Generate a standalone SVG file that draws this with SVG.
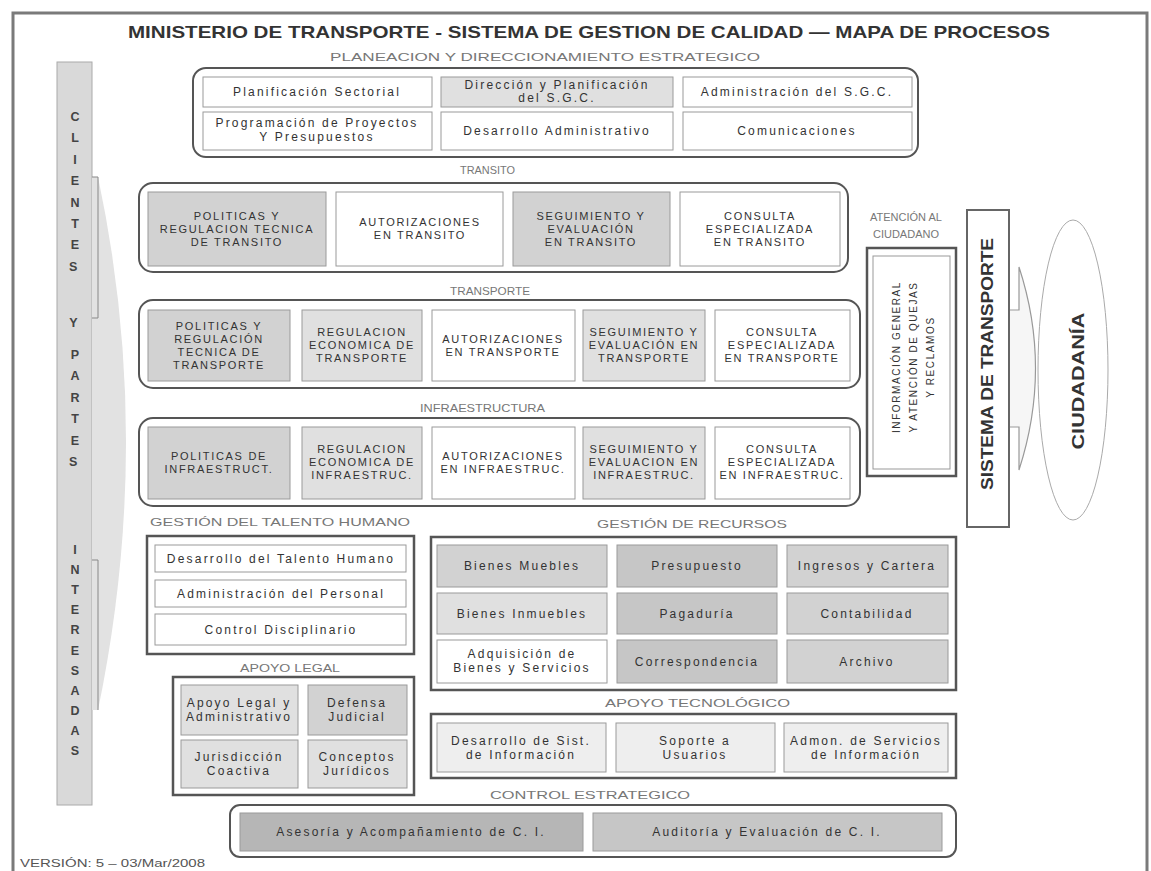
<svg xmlns="http://www.w3.org/2000/svg" width="1151" height="871" viewBox="0 0 1151 871">
<style>
text{font-family:"Liberation Sans",Arial,sans-serif}
.box{fill:none;stroke:#555;stroke-width:2}
.sq{fill:#fff;stroke:#555;stroke-width:2.5}
.cell{stroke:#9a9a9a;stroke-width:1}
.w{fill:#fff}.g0{fill:#eeeeee}.g1{fill:#e0e0e0}.g2{fill:#d2d2d2}.g3{fill:#c6c6c6}.g4{fill:#b6b6b6}
.t{font-size:12px;fill:#333;letter-spacing:2.2px;text-anchor:middle}
.u{font-size:11px;fill:#333;letter-spacing:1.7px;text-anchor:middle}
.v{font-size:10px;fill:#333;letter-spacing:1.6px;text-anchor:middle}
.lbl{font-size:11px;fill:#777}
.col{font-size:12.5px;font-weight:bold;fill:#444;text-anchor:middle}
.big{font-weight:bold;fill:#333;text-anchor:middle}
</style>
<rect width="1151" height="871" fill="#fff"/>
<rect x="13" y="13" width="1134" height="880" fill="none" stroke="#7a7a7a" stroke-width="3"/>
<text x="128" y="38" font-size="17" font-weight="bold" fill="#333" textLength="922" lengthAdjust="spacingAndGlyphs">MINISTERIO DE TRANSPORTE - SISTEMA DE GESTION DE CALIDAD — MAPA DE PROCESOS</text>

<g id="clientes">
<rect x="57" y="62" width="35" height="743" fill="#d9d9d9" stroke="#aaa" stroke-width="1"/>
<text class="col">
<tspan x="75" y="121">C</tspan><tspan x="75" y="142">L</tspan><tspan x="75" y="164">I</tspan><tspan x="75" y="185">E</tspan><tspan x="75" y="207">N</tspan><tspan x="75" y="228">T</tspan><tspan x="75" y="249">E</tspan><tspan x="75" y="271">S</tspan>
<tspan x="75" y="327">Y</tspan>
<tspan x="75" y="359">P</tspan><tspan x="75" y="380">A</tspan><tspan x="75" y="402">R</tspan><tspan x="75" y="423">T</tspan><tspan x="75" y="445">E</tspan><tspan x="75" y="466">S</tspan>
<tspan x="75" y="554">I</tspan><tspan x="75" y="574">N</tspan><tspan x="75" y="594">T</tspan><tspan x="75" y="614">E</tspan><tspan x="75" y="634">R</tspan><tspan x="75" y="655">E</tspan><tspan x="75" y="675">S</tspan><tspan x="75" y="695">A</tspan><tspan x="75" y="715">D</tspan><tspan x="75" y="735">A</tspan><tspan x="75" y="755">S</tspan>
</text>
</g>

<g id="connectors">
<path d="M92,177 L98,177 Q154,440 98,710 L92,710 Z" fill="#e2e2e2" stroke="none"/>
<path d="M92,177 H98 V318 H92 M92,560 H98 V710" fill="none" stroke="#888" stroke-width="1"/>
<path d="M1009,310 H1019 V267 Q1052,368 1019,470 V427 H1009" fill="#f6f6f6" stroke="#999" stroke-width="1.2"/>
</g>

<g id="planeacion">
<text class="lbl" x="330" y="61" textLength="430" lengthAdjust="spacingAndGlyphs">PLANEACION Y DIRECCIONAMIENTO ESTRATEGICO</text>
<rect class="box" x="193" y="68" width="725" height="89" rx="13"/>
<rect class="cell w" x="203" y="77" width="229" height="30"/>
<rect class="cell g1" x="441" y="77" width="232" height="30"/>
<rect class="cell w" x="683" y="77" width="229" height="30"/>
<rect class="cell w" x="203" y="112" width="229" height="38"/>
<rect class="cell w" x="441" y="112" width="232" height="38"/>
<rect class="cell w" x="683" y="112" width="229" height="38"/>
<text class="t" x="317" y="96">Planificación Sectorial</text>
<text class="t"><tspan x="557" y="89">Dirección y Planificación</tspan><tspan x="557" y="102">del S.G.C.</tspan></text>
<text class="t" x="797" y="96">Administración del S.G.C.</text>
<text class="t"><tspan x="317" y="127">Programación de Proyectos</tspan><tspan x="317" y="141">Y Presupuestos</tspan></text>
<text class="t" x="557" y="135">Desarrollo Administrativo</text>
<text class="t" x="797" y="135">Comunicaciones</text>
</g>

<g id="transito">
<text class="lbl" x="460" y="174" textLength="55" lengthAdjust="spacingAndGlyphs">TRANSITO</text>
<rect class="box" x="139" y="183" width="709" height="89" rx="14"/>
<rect class="cell g2" x="148" y="192" width="178" height="74"/>
<rect class="cell w" x="336" y="192" width="167" height="74"/>
<rect class="cell g2" x="513" y="192" width="157" height="74"/>
<rect class="cell w" x="680" y="192" width="160" height="74"/>
<text class="u"><tspan x="237" y="220">POLITICAS Y</tspan><tspan x="237" y="233">REGULACION TECNICA</tspan><tspan x="237" y="246">DE TRANSITO</tspan></text>
<text class="u"><tspan x="420" y="226">AUTORIZACIONES</tspan><tspan x="420" y="239">EN TRANSITO</tspan></text>
<text class="u"><tspan x="591" y="220">SEGUIMIENTO Y</tspan><tspan x="591" y="233">EVALUACIÓN</tspan><tspan x="591" y="246">EN TRANSITO</tspan></text>
<text class="u"><tspan x="760" y="220">CONSULTA</tspan><tspan x="760" y="233">ESPECIALIZADA</tspan><tspan x="760" y="246">EN TRANSITO</tspan></text>
</g>

<g id="transporte">
<text class="lbl" x="450" y="295" textLength="80" lengthAdjust="spacingAndGlyphs">TRANSPORTE</text>
<rect class="box" x="139" y="300" width="721" height="88" rx="14"/>
<rect class="cell g2" x="148" y="310" width="142" height="71"/>
<rect class="cell g1" x="302" y="310" width="120" height="71"/>
<rect class="cell w" x="432" y="310" width="143" height="71"/>
<rect class="cell g1" x="583" y="310" width="122" height="71"/>
<rect class="cell w" x="715" y="310" width="135" height="71"/>
<text class="u"><tspan x="219" y="330">POLITICAS Y</tspan><tspan x="219" y="343">REGULACIÓN</tspan><tspan x="219" y="356">TECNICA DE</tspan><tspan x="219" y="369">TRANSPORTE</tspan></text>
<text class="u"><tspan x="362" y="336">REGULACION</tspan><tspan x="362" y="349">ECONOMICA DE</tspan><tspan x="362" y="362">TRANSPORTE</tspan></text>
<text class="u"><tspan x="503" y="343">AUTORIZACIONES</tspan><tspan x="503" y="356">EN TRANSPORTE</tspan></text>
<text class="u"><tspan x="644" y="336">SEGUIMIENTO Y</tspan><tspan x="644" y="349">EVALUACIÓN EN</tspan><tspan x="644" y="362">TRANSPORTE</tspan></text>
<text class="u"><tspan x="782" y="336">CONSULTA</tspan><tspan x="782" y="349">ESPECIALIZADA</tspan><tspan x="782" y="362">EN TRANSPORTE</tspan></text>
</g>

<g id="infraestructura">
<text class="lbl" x="420" y="412" textLength="125" lengthAdjust="spacingAndGlyphs">INFRAESTRUCTURA</text>
<rect class="box" x="139" y="418" width="721" height="88" rx="14"/>
<rect class="cell g2" x="148" y="427" width="142" height="72"/>
<rect class="cell g1" x="302" y="427" width="120" height="72"/>
<rect class="cell w" x="432" y="427" width="143" height="72"/>
<rect class="cell g1" x="583" y="427" width="122" height="72"/>
<rect class="cell w" x="715" y="427" width="135" height="72"/>
<text class="u"><tspan x="219" y="460">POLITICAS DE</tspan><tspan x="219" y="473">INFRAESTRUCT.</tspan></text>
<text class="u"><tspan x="362" y="453">REGULACION</tspan><tspan x="362" y="466">ECONOMICA DE</tspan><tspan x="362" y="479">INFRAESTRUC.</tspan></text>
<text class="u"><tspan x="503" y="460">AUTORIZACIONES</tspan><tspan x="503" y="473">EN INFRAESTRUC.</tspan></text>
<text class="u"><tspan x="644" y="453">SEGUIMIENTO Y</tspan><tspan x="644" y="466">EVALUACION EN</tspan><tspan x="644" y="479">INFRAESTRUC.</tspan></text>
<text class="u"><tspan x="782" y="453">CONSULTA</tspan><tspan x="782" y="466">ESPECIALIZADA</tspan><tspan x="782" y="479">EN INFRAESTRUC.</tspan></text>
</g>

<g id="talento">
<text class="lbl" x="150" y="526" textLength="260" lengthAdjust="spacingAndGlyphs">GESTIÓN DEL TALENTO HUMANO</text>
<rect class="sq" x="147" y="536" width="267" height="118"/>
<rect class="cell w" x="155" y="545" width="251" height="27"/>
<rect class="cell w" x="155" y="580" width="251" height="27"/>
<rect class="cell w" x="155" y="614" width="251" height="31"/>
<text class="t" x="281" y="563">Desarrollo del Talento Humano</text>
<text class="t" x="281" y="598">Administración del Personal</text>
<text class="t" x="281" y="634">Control Disciplinario</text>
</g>

<g id="recursos">
<text class="lbl" x="597" y="528" textLength="190" lengthAdjust="spacingAndGlyphs">GESTIÓN DE RECURSOS</text>
<rect class="sq" x="431" y="537" width="525" height="153"/>
<rect class="cell g2" x="437" y="545" width="170" height="42"/>
<rect class="cell g3" x="617" y="545" width="160" height="42"/>
<rect class="cell g2" x="787" y="545" width="161" height="42"/>
<rect class="cell g1" x="437" y="593" width="170" height="41"/>
<rect class="cell g3" x="617" y="593" width="160" height="41"/>
<rect class="cell g2" x="787" y="593" width="161" height="41"/>
<rect class="cell w" x="437" y="640" width="170" height="43"/>
<rect class="cell g3" x="617" y="640" width="160" height="43"/>
<rect class="cell g2" x="787" y="640" width="161" height="43"/>
<text class="t" x="522" y="570">Bienes Muebles</text>
<text class="t" x="697" y="570">Presupuesto</text>
<text class="t" x="867" y="570">Ingresos y Cartera</text>
<text class="t" x="522" y="618">Bienes Inmuebles</text>
<text class="t" x="697" y="618">Pagaduría</text>
<text class="t" x="867" y="618">Contabilidad</text>
<text class="t"><tspan x="522" y="658">Adquisición de</tspan><tspan x="522" y="672">Bienes y Servicios</tspan></text>
<text class="t" x="697" y="666">Correspondencia</text>
<text class="t" x="867" y="666">Archivo</text>
</g>

<g id="apoyo-legal">
<text class="lbl" x="240" y="672" textLength="100" lengthAdjust="spacingAndGlyphs">APOYO LEGAL</text>
<rect class="sq" x="173" y="677" width="241" height="118"/>
<rect class="cell g1" x="181" y="685" width="117" height="50"/>
<rect class="cell g2" x="308" y="685" width="99" height="50"/>
<rect class="cell g1" x="181" y="740" width="117" height="48"/>
<rect class="cell g1" x="308" y="740" width="99" height="48"/>
<text class="t"><tspan x="239" y="707">Apoyo Legal y</tspan><tspan x="239" y="721">Administrativo</tspan></text>
<text class="t"><tspan x="357" y="707">Defensa</tspan><tspan x="357" y="721">Judicial</tspan></text>
<text class="t"><tspan x="239" y="761">Jurisdicción</tspan><tspan x="239" y="775">Coactiva</tspan></text>
<text class="t"><tspan x="357" y="761">Conceptos</tspan><tspan x="357" y="775">Jurídicos</tspan></text>
</g>

<g id="apoyo-tecnologico">
<text class="lbl" x="605" y="707" textLength="185" lengthAdjust="spacingAndGlyphs">APOYO TECNOLÓGICO</text>
<rect class="sq" x="431" y="714" width="525" height="64"/>
<rect class="cell g0" x="437" y="723" width="169" height="49"/>
<rect class="cell g0" x="616" y="723" width="159" height="49"/>
<rect class="cell g0" x="784" y="723" width="164" height="49"/>
<text class="t"><tspan x="521" y="745">Desarrollo de Sist.</tspan><tspan x="521" y="759">de Información</tspan></text>
<text class="t"><tspan x="695" y="745">Soporte a</tspan><tspan x="695" y="759">Usuarios</tspan></text>
<text class="t"><tspan x="866" y="745">Admon. de Servicios</tspan><tspan x="866" y="759">de Información</tspan></text>
</g>

<g id="control">
<text class="lbl" x="490" y="799" textLength="200" lengthAdjust="spacingAndGlyphs">CONTROL ESTRATEGICO</text>
<rect class="box" x="230" y="805" width="726" height="52" rx="10"/>
<rect class="cell g4" x="240" y="813" width="343" height="38"/>
<rect class="cell g3" x="593" y="813" width="349" height="38"/>
<text class="t" x="411" y="836">Asesoría y Acompañamiento de C. I.</text>
<text class="t" x="767" y="836">Auditoría y Evaluación de C. I.</text>
</g>

<g id="atencion">
<text class="lbl" text-anchor="middle"><tspan x="906" y="221">ATENCIÓN AL</tspan><tspan x="906" y="238">CIUDADANO</tspan></text>
<rect class="sq" x="867" y="248" width="89" height="228"/>
<rect x="873" y="256" width="77" height="213" fill="none" stroke="#999" stroke-width="1"/>
<g transform="translate(912,357) rotate(-90)">
<text class="v"><tspan x="0" y="-12">INFORMACIÓN GENERAL</tspan><tspan x="0" y="5">Y ATENCIÓN DE QUEJAS</tspan><tspan x="0" y="22">Y RECLAMOS</tspan></text>
</g>
</g>

<g id="sistema">
<rect x="967" y="210" width="42" height="317" fill="#fff" stroke="#666" stroke-width="2"/>
<text class="big" font-size="16" transform="translate(993,364) rotate(-90)" x="0" y="0" textLength="252" lengthAdjust="spacingAndGlyphs">SISTEMA DE TRANSPORTE</text>
</g>

<g id="ciudadania">
<ellipse cx="1073" cy="370" rx="35" ry="150" fill="#fff" stroke="#aaa" stroke-width="1"/>
<text class="big" font-size="17" transform="translate(1084,381) rotate(-90)" x="0" y="0" textLength="137" lengthAdjust="spacingAndGlyphs">CIUDADANÍA</text>
</g>

<text x="20" y="867" font-size="10" fill="#555" textLength="185" lengthAdjust="spacingAndGlyphs">VERSIÓN: 5 – 03/Mar/2008</text>
</svg>
